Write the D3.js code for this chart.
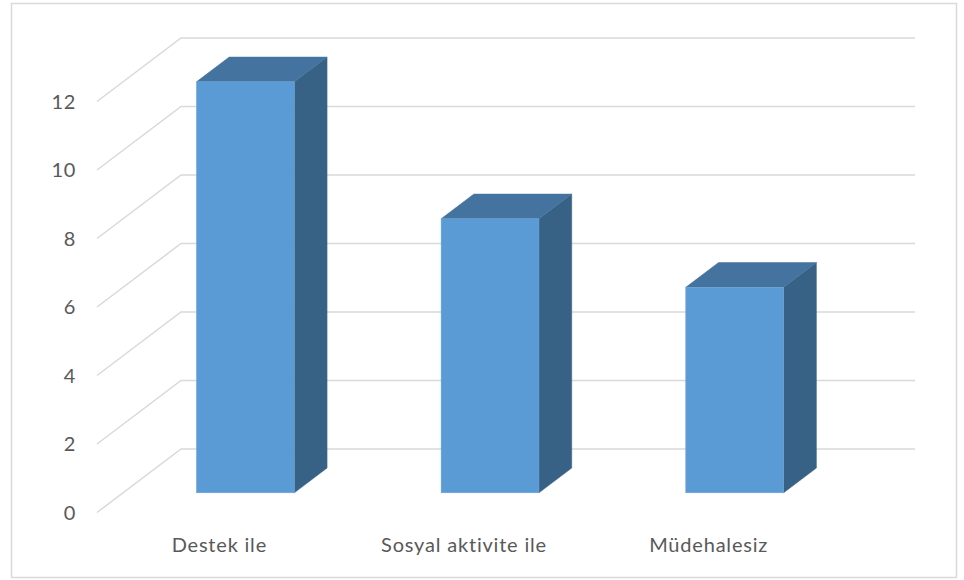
<!DOCTYPE html>
<html>
<head>
<meta charset="utf-8">
<script src="https://cdn.jsdelivr.net/npm/d3@7"></script>
<style>
  html, body { margin: 0; padding: 0; background: #fff; }
  svg { display: block; }
  text { font-family: Lato, "Open Sans", sans-serif; fill: #595959; }
</style>
</head>
<body>
<svg id="chart" width="964" height="580"></svg>
<script>
const categories = ["Destek ile", "Sosyal aktivite ile", "Müdehalesiz"];
const values = [12, 8, 6];
const yTicks = [0, 2, 4, 6, 8, 10, 12];

const W = 964, H = 580;
const svg = d3.select("#chart");

// outer border
svg.append("rect")
  .attr("x", 11.5).attr("y", 3.5).attr("width", 945).attr("height", 574)
  .attr("fill", "#fff").attr("stroke", "#d9d9d9").attr("stroke-width", 1.5);

// back wall plane
const x = d3.scaleBand().domain(categories).range([181, 915])
  .paddingInner(0.6).paddingOuter(0.3);
const xLab = d3.scaleBand().domain(categories).range([181, 915]);
const y = d3.scaleLinear().domain([0, 12]).range([449, 38]);

const DX = -84, DY = 63.5; // depth vector, back (0) to front (1)
const P = (px, v, d) => [px + DX * d, y(v) + DY * d];

// gridlines
const grid = svg.append("g");
yTicks.forEach(t => {
  const pts = [P(181, t, 1), P(181, t, 0), P(915, t, 0)];
  grid.append("polyline")
    .attr("points", pts.map(p => p.join(",")).join(" "))
    .attr("fill", "none").attr("stroke", "#d9d9d9").attr("stroke-width", 1.5);
});

// y labels
svg.append("g").selectAll("text").data(yTicks).join("text")
  .attr("x", 76)
  .attr("y", d => P(181, d, 1)[1])
  .attr("dy", "0.35em")
  .attr("text-anchor", "end")
  .attr("font-size", 20)
  .attr("letter-spacing", 0.6)
  .text(d => d);

// bars
const d0 = 0.3, d1 = 0.69;
const poly = pts => pts.map(p => p.join(",")).join(" ");
const bars = svg.append("g");
categories.forEach((c, i) => {
  const v = values[i];
  const x0 = x(c), x1 = x(c) + x.bandwidth();
  // side face
  bars.append("polygon")
    .attr("points", poly([P(x1, 0, d1), P(x1, v, d1), P(x1, v, d0), P(x1, 0, d0)]))
    .attr("fill", "#386186").attr("stroke", "#386186").attr("stroke-width", 0.5);
  // top face
  bars.append("polygon")
    .attr("points", poly([P(x0, v, d1), P(x1, v, d1), P(x1, v, d0), P(x0, v, d0)]))
    .attr("fill", "#44739f").attr("stroke", "#44739f").attr("stroke-width", 0.5);
  // front face
  const f0 = P(x0, v, d1), f1 = P(x1, 0, d1);
  bars.append("rect")
    .attr("x", f0[0]).attr("y", f0[1])
    .attr("width", f1[0] - f0[0]).attr("height", f1[1] - f0[1])
    .attr("fill", "#5b9bd5").attr("stroke", "#6ca5d9").attr("stroke-width", 0.5);
});

// category labels
svg.append("g").selectAll("text").data(categories).join("text")
  .attr("x", d => xLab(d) + xLab.bandwidth() / 2 + DX)
  .attr("y", 552)
  .attr("text-anchor", "middle")
  .attr("font-size", 20)
  .attr("letter-spacing", 0.8)
  .text(d => d);
</script>
</body>
</html>
